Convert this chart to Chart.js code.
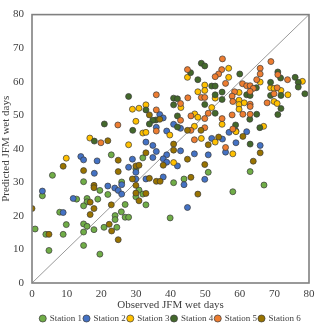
<!DOCTYPE html>
<html>
<head>
<meta charset="utf-8">
<script src="https://cdn.jsdelivr.net/npm/chart.js@4"></script>
<style>
  html, body { margin: 0; padding: 0; background: #fff; }
  #wrap { width: 320px; height: 328px; }
</style>
</head>
<body>
<div id="wrap"><canvas id="chart" width="320" height="328"></canvas></div>
<script>
// observed vs predicted JFM wet days, [observed, predicted]
const stationNames = ["Station 1", "Station 2", "Station 3", "Station 4", "Station 5", "Station 6"];
const stationColors = ["#70AD47", "#4472C4", "#FFC000", "#43682B", "#ED7D31", "#997300"];

const station1 = [[5.9,32.1],[3.0,26.0],[0.9,16.1],[4.0,14.5],[9.0,14.5],[4.9,9.7],[8.0,21.1],[9.9,17.4],
  [12.9,25.0],[15.9,25.2],[15.9,24.2],[14.9,30.2],[19.6,27.6],[14.9,23.0],[19.0,25.0],[14.9,17.6],
  [15.9,16.9],[17.9,15.9],[14.9,15.2],[14.9,11.2],[19.6,8.6],[20.8,16.6],[24.0,20.1],[24.0,18.9],
  [24.5,16.6],[25.8,21.2],[26.9,19.6],[27.9,19.6],[22.9,38.2],[32.0,37.3],[30.0,34.0],[25.9,30.1],
  [30.9,27.7],[32.0,26.5],[30.0,25.7],[21.9,26.4],[26.9,23.4],[32.9,23.3],[50.9,33.0],[43.9,31.0],
  [40.9,29.9],[58.0,27.2],[63.0,33.2],[67.0,29.2],[39.9,19.4]];
const station2 = [[3.0,27.4],[9.0,21.0],[11.9,25.2],[18.0,32.7],[14.1,37.7],[14.9,36.7],[18.8,36.4],
  [38.9,45.3],[32.9,42.0],[34.9,41.0],[35.9,39.2],[38.9,38.2],[29.0,36.9],[34.9,37.4],[37.9,37.0],
  [38.9,36.0],[27.9,34.5],[30.0,33.0],[30.0,31.0],[32.9,31.0],[37.9,31.6],[25.9,29.3],[21.9,28.9],
  [23.9,28.3],[24.9,27.6],[25.9,26.5],[36.9,50.2],[37.9,49.2],[40.9,47.3],[42.9,46.1],[35.9,46.4],
  [56.9,44.9],[58.9,45.3],[55.0,42.9],[51.9,43.1],[58.9,41.8],[42.9,39.4],[55.9,39.0],[46.9,38.5],
  [50.9,38.2],[42.0,34.9],[49.9,30.9],[43.9,29.3],[44.9,22.5],[62.0,45.1],[65.9,41.0]];
const station3 = [[9.9,37.2],[16.7,43.2],[32.9,53.1],[29.0,51.8],[30.9,52.1],[30.0,48.2],[32.0,44.7],
  [32.9,44.9],[27.9,41.2],[56.8,64.0],[44.9,61.3],[56.8,61.3],[49.9,59.0],[47.9,57.0],[49.9,57.4],
  [52.9,55.1],[43.0,52.3],[51.9,52.3],[47.0,50.4],[47.9,49.4],[54.9,47.3],[46.9,46.7],[65.9,59.9],
  [78.1,60.1],[68.9,58.2],[69.9,58.0],[71.9,57.4],[73.9,56.1],[59.8,56.8],[59.8,54.5],[59.8,53.2],
  [61.3,53.7],[69.9,54.1],[70.8,53.5],[59.8,51.8],[66.9,46.7],[39.8,44.1],[48.9,43.1],[52.9,42.0],
  [58.0,38.5],[40.9,35.9],[58.9,45.1]];
const station4 = [[18.0,42.3],[20.9,47.4],[29.1,45.5],[27.9,55.6],[32.9,51.6],[35.8,48.6],[34.9,48.5],
  [33.9,47.4],[48.9,65.5],[49.9,64.7],[45.8,62.7],[47.9,60.6],[51.9,58.7],[52.9,58.7],[52.9,56.1],
  [54.9,56.9],[54.9,54.7],[40.9,55.1],[42.0,54.9],[40.9,53.1],[49.9,53.2],[52.9,50.6],[42.0,49.8],
  [42.0,46.5],[58.8,47.1],[60.0,62.3],[71.0,62.9],[71.8,61.1],[76.0,61.3],[76.9,59.8],[76.9,58.4],
  [78.8,56.4],[68.9,59.8],[68.9,55.9],[71.9,55.9],[64.8,58.2],[62.0,56.1],[63.0,55.9],[71.9,52.0],
  [71.0,50.2],[64.9,50.3],[62.9,48.8],[65.8,46.3],[63.0,41.4]];
const station5 = [[19.9,41.8],[24.8,47.1],[35.9,56.1],[35.9,51.6],[35.9,45.3],[55.0,66.8],[44.9,63.6],
  [54.8,63.6],[53.9,62.3],[52.9,61.5],[55.9,59.5],[48.9,55.3],[49.9,55.3],[58.5,57.0],[57.8,55.7],
  [45.0,55.2],[42.9,53.5],[50.9,50.6],[45.9,49.8],[42.9,48.5],[49.9,49.0],[57.8,50.1],[54.9,49.0],
  [49.9,46.3],[58.0,45.9],[45.9,45.5],[58.0,54.1],[69.0,66.0],[65.9,64.0],[65.9,62.3],[64.9,60.6],
  [71.0,62.1],[73.8,60.6],[70.8,58.2],[69.9,56.4],[60.8,59.4],[62.0,58.8],[63.0,58.8],[63.9,58.0],
  [63.0,57.1],[63.0,53.3],[63.0,52.6],[67.9,53.7],[60.9,50.3],[63.0,50.3],[46.9,42.7],[55.9,40.4]];
const station6 = [[9.0,34.8],[14.9,33.5],[17.9,29.1],[17.9,28.4],[16.8,24.1],[17.9,22.2],[0.0,22.2],
  [4.9,14.5],[16.8,20.4],[21.9,42.4],[32.9,38.8],[24.9,36.6],[37.9,35.1],[30.0,34.9],[30.9,35.1],
  [24.9,33.2],[29.0,31.0],[33.9,31.2],[35.9,30.3],[37.0,30.3],[30.0,29.1],[30.0,26.8],[32.9,26.7],
  [30.9,24.5],[22.9,23.3],[23.0,15.5],[24.9,12.9],[22.3,17.5],[33.9,50.1],[36.9,48.8],[44.9,45.5],
  [48.8,45.5],[53.9,43.5],[50.9,41.2],[40.9,41.4],[40.9,39.6],[44.9,36.9],[49.9,35.3],[45.9,31.5],
  [47.9,26.5],[60.9,43.7],[65.9,38.8],[63.9,36.3]];

const stations = [station1, station2, station3, station4, station5, station6];
const oneToOne = [[0, 0], [80, 80]];
const axisTicks = [0, 10, 20, 30, 40, 50, 60, 70, 80];

const serif = "'Liberation Serif', 'Times New Roman', serif";

const datasets = stations.map((pts, i) => ({
  label: stationNames[i],
  data: pts.map(p => ({ x: p[0], y: p[1] })),
  backgroundColor: stationColors[i],
  borderColor: "#3a3a3a",
  borderWidth: 0.7,
  pointRadius: 3,
  order: 10 - i
}));

datasets.push({
  label: "1:1",
  data: oneToOne.map(p => ({ x: p[0], y: p[1] })),
  showLine: true,
  borderColor: "#9a9a9a",
  borderWidth: 1,
  pointRadius: 0,
  order: 20
});

// grey frame round the plot area
const frame = {
  id: "frame",
  afterDatasetsDraw(chart) {
    const { ctx, chartArea: a } = chart;
    ctx.save();
    ctx.strokeStyle = "#808080";
    ctx.lineWidth = 1.6;
    ctx.strokeRect(a.left, a.top, a.right - a.left, a.bottom - a.top);
    ctx.restore();
  }
};

new Chart(document.getElementById("chart"), {
  type: "scatter",
  data: { datasets },
  options: {
    responsive: false,
    animation: false,
    layout: { padding: { top: -3, right: 11, left: 0, bottom: -5 } },
    scales: {
      x: {
        type: "linear", min: 0, max: 80,
        afterBuildTicks: (s) => { s.ticks = axisTicks.map(v => ({ value: v })); },
        afterFit: (s) => { s.height = 29; },
        grid: { display: false, drawTicks: false },
        border: { display: false },
        ticks: { color: "#404040", font: { family: serif, size: 11 }, padding: 5, maxRotation: 0 },
        title: { display: true, text: "Observed JFM wet days", color: "#404040",
                 font: { family: serif, size: 11 }, padding: { top: 0, bottom: 0 } }
      },
      y: {
        type: "linear", min: 0, max: 80,
        afterBuildTicks: (s) => { s.ticks = axisTicks.map(v => ({ value: v })); },
        afterFit: (s) => { s.width = 32; },
        grid: { display: false, drawTicks: false },
        border: { display: false },
        ticks: { color: "#404040", font: { family: serif, size: 11 }, padding: 8 },
        title: { display: true, text: "Predicted JFM wet days", color: "#404040",
                 font: { family: serif, size: 11 }, padding: { top: 0, bottom: 2 } }
      }
    },
    plugins: {
      legend: {
        position: "bottom",
        fullSize: false,
        labels: {
          filter: (item) => item.datasetIndex < 6,
          sort: (a, b) => a.datasetIndex - b.datasetIndex,
          usePointStyle: true,
          pointStyle: "circle",
          boxWidth: 5,
          boxHeight: 5,
          padding: 2,
          color: "#404040",
          font: { family: serif, size: 9 }
        }
      },
      tooltip: { enabled: false }
    }
  },
  plugins: [frame]
});
</script>
</body>
</html>
